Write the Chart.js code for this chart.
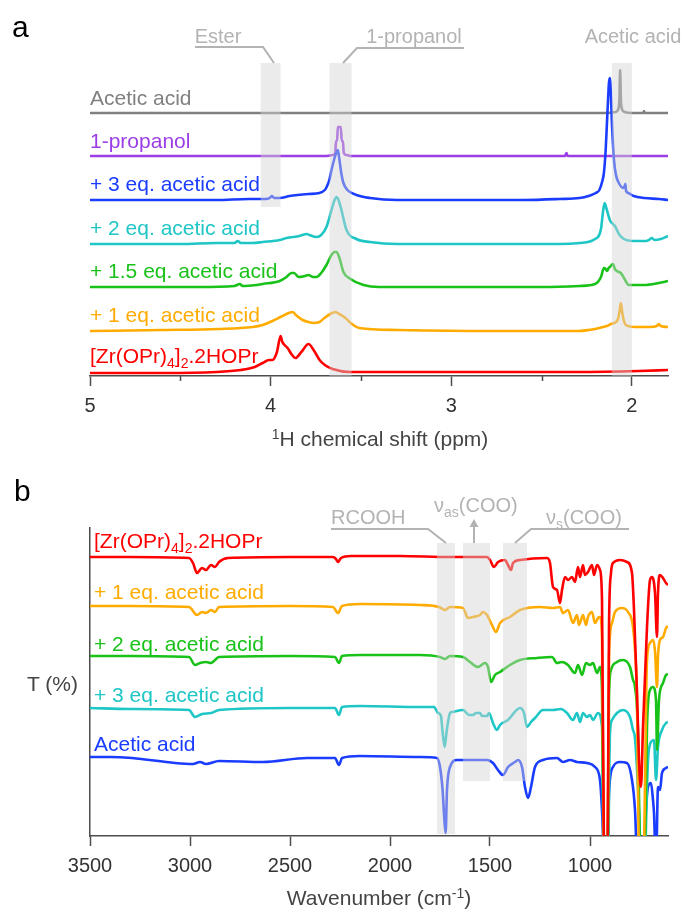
<!DOCTYPE html>
<html>
<head>
<meta charset="utf-8">
<script src="https://cdn.jsdelivr.net/npm/chart.js@4.4.0/dist/chart.umd.min.js"></script>
<style>
  body { margin: 0; background: #fff; }
  #fig { position: relative; width: 684px; height: 913px; overflow: hidden;
         font-family: "Liberation Sans", Arial, sans-serif; }
  #fig canvas { position: absolute; left: 0; }
  .lbl { position: absolute; white-space: nowrap; font-size: 21px; line-height: 21px; transform: translateY(-50%); }
  .lbl sub { font-size: 14px; vertical-align: -5px; line-height: 0; }
  .lbl sup { font-size: 14px; vertical-align: 7px; line-height: 0; }
  .mid { transform: translate(-50%, -50%); }
  .note { color: #b3b3b3; font-size: 20px; }
</style>
</head>
<body>
<div id="fig">
  <canvas id="chartNmr" width="684" height="460" style="top:0"></canvas>
  <canvas id="chartIr" width="684" height="453" style="top:460px"></canvas>
</div>
<script>
// ---- panel a : 1H NMR, [ppm, height above the trace baseline] ----
var nmrNames = ['Acetic acid', '1-propanol', '+ 3 eq. acetic acid', '+ 2 eq. acetic acid',
                '+ 1.5 eq. acetic acid', '+ 1 eq. acetic acid', '[Zr(OPr)<sub>4</sub>]<sub>2</sub>.2HOPr'];
var nmrColors = ['#808080', '#9b3ee6', '#1a3cff', '#1fc6c6', '#19c219', '#ffab00', '#ff0000'];
var nmrBase = [263, 220, 176, 132, 89, 45, 4];
var nmrDrawOrder = [2, 1, 0, 3, 4, 5, 6];
var ppmTicks = [5, 4, 3, 2];
var ppmMinorTicks = [4.5, 3.5, 2.5];

var nmrAcetic = [[5,0],[2.14,0],[2.09,1],[2.075,4],[2.069,14],[2.065,43],[2.061,14],[2.055,4],[2.04,1],[2.0,0],
  [1.936,0],[1.933,2],[1.930,0],[1.8,0]];
var nmrPropanol = [[5,0],[3.70,0],[3.655,1],[3.642,3],[3.638,15],[3.632,15],[3.628,29],[3.612,29],[3.606,15],
  [3.600,15],[3.595,3],[3.58,1],[3.55,0],[2.37,0],[2.362,3],[2.356,0],[1.8,0]];
var nmr3eq = [[5,0],[4.6,0],[4.3,0],[4.12,1],[4.03,1],[4.005,2],[3.994,4],[3.98,2],[3.95,2],[3.895,4],[3.79,6],
  [3.73,7],[3.70,10],[3.69,13],[3.675,20],[3.663,30],[3.646,42],[3.635,48],[3.628,50],[3.619,40],[3.608,26],
  [3.597,17],[3.575,10],[3.525,5],[3.45,2],[3.3,0],[2.6,0],[2.4,1],[2.29,2],[2.24,4],[2.20,7],[2.18,10],
  [2.165,18],[2.155,27],[2.145,50],[2.138,77],[2.132,100],[2.127,117],[2.122,122],[2.116,105],[2.11,75],
  [2.099,40],[2.088,25],[2.072,17],[2.048,12],[2.040,14],[2.036,16],[2.032,9],[2.02,7],[1.99,4],[1.93,2],
  [1.85,1],[1.8,0]];
var nmr2eq = [[5,0],[4.5,0],[4.3,1],[4.2,1],[4.182,3],[4.165,1],[4.1,1],[4.044,2],[3.95,4],[3.912,6],[3.84,8],
  [3.80,10],[3.785,9],[3.746,7],[3.72,9],[3.691,17],[3.663,34],[3.646,44],[3.635,47],[3.624,44],[3.608,34],
  [3.58,14],[3.525,5],[3.45,2],[3.3,0],[2.4,0],[2.29,1],[2.204,5],[2.171,15],[2.16,32],[2.151,41],[2.14,35],
  [2.122,24],[2.105,20],[2.094,18],[2.072,10],[2.044,5],[1.989,3],[1.92,3],[1.906,4],[1.89,6],[1.875,4],
  [1.84,5],[1.8,8]];
var nmr15eq = [[5,0],[4.4,0],[4.2,1],[4.171,3],[4.155,1],[4.08,2],[4.044,3],[3.95,6],[3.912,10],[3.885,14],
  [3.87,14],[3.845,10],[3.81,11],[3.79,12],[3.765,10],[3.746,10],[3.72,14],[3.691,22],[3.663,32],[3.646,35],
  [3.635,35],[3.619,29],[3.597,15],[3.558,8],[3.486,2],[3.4,0],[2.5,0],[2.29,1],[2.204,3],[2.171,10],
  [2.155,19],[2.145,18],[2.138,16],[2.128,19],[2.122,20],[2.105,23],[2.094,18],[2.083,16],[2.072,15],
  [2.061,14],[2.044,9],[2.017,2],[1.934,2],[1.851,4],[1.8,6]];
var nmr1eq = [[5,0],[4.6,1],[4.29,2],[4.1,4],[4.044,6],[3.99,10],[3.945,14],[3.90,18],[3.878,19],[3.86,16],
  [3.823,11],[3.79,9],[3.762,8],[3.73,9],[3.702,13],[3.67,17],[3.641,19],[3.62,17],[3.586,13],[3.55,7],
  [3.508,3],[3.3,1],[2.8,0],[2.3,0],[2.238,1],[2.204,2],[2.16,4],[2.138,5],[2.116,7],[2.088,9],[2.077,12],
  [2.068,20],[2.061,28],[2.053,18],[2.044,10],[2.033,6],[1.983,4],[1.90,4],[1.862,5],[1.851,7],[1.84,5],[1.8,4]];
var nmrZr = [[5,-1],[4.6,-1],[4.3,0],[4.166,2],[4.088,5],[4.044,9],[4.01,12],[3.99,12],[3.965,20],[3.945,36],
  [3.935,30],[3.923,27],[3.906,24],[3.885,18],[3.862,14],[3.83,20],[3.79,28],[3.762,22],[3.729,12],[3.70,7],
  [3.657,3],[3.558,0],[2.3,0],[1.96,1],[1.8,2]];
var nmrSpectra = [nmrAcetic, nmrPropanol, nmr3eq, nmr2eq, nmr15eq, nmr1eq, nmrZr];

// shaded regions [from, to, top, bottom] in axis units
var nmrBands = [[4.055, 3.945, 313, 169], [3.674, 3.552, 313, 0], [2.111, 2.0, 313, 0]];

// ---- panel b : IR, [wavenumber, change from the trace baseline] ----
var irNames = ['[Zr(OPr)<sub>4</sub>]<sub>2</sub>.2HOPr', '+ 1 eq. acetic acid', '+ 2 eq. acetic acid',
               '+ 3 eq. acetic acid', 'Acetic acid'];
var irColors = ['#ff0000', '#ffab00', '#19c219', '#1fc6c6', '#1a3cff'];
var irBase = [279, 230, 180, 128, 79];
var wnTicks = [3500, 3000, 2500, 2000, 1500, 1000];

var irZr = [[3500,0],[3300,0],[3005,-1],[2985,-6],[2965,-16],[2940,-11],[2920,-13],[2895,-8],[2875,-10],
  [2855,-5],[2810,-1],[2500,0],[2285,0],[2270,-2],[2260,-5],[2245,-1],[2195,1],[1950,1],[1700,0],[1515,0],
  [1500,-3],[1480,-10],[1460,-5],[1425,-3],[1410,-8],[1395,-13],[1385,-6],[1350,-3],[1215,-1],[1200,-6],
  [1185,-30],[1165,-33],[1150,-46],[1140,-33],[1125,-20],[1110,-23],[1090,-20],[1075,-25],[1060,-10],
  [1050,-20],[1035,-8],[1025,-18],[1010,-15],[990,-8],[980,-18],[965,-8],[950,-13],[940,-43],[930,-300],
  [920,-320],[912,-300],[905,-70],[895,-16],[885,-6],[850,-3],[815,-5],[790,-16],[780,-53],[765,-136],
  [755,-203],[745,-230],[735,-170],[715,-70],[700,-23],[690,-20],[675,-36],[665,-80],[660,-36],[650,-18],
  [635,-21],[620,-26],[610,-28]];
var irEq1 = [[3500,0],[3300,0],[3005,-1],[2965,-9],[2940,-6],[2920,-7],[2895,-4],[2875,-6],[2855,-1],[2500,0],
  [2285,-1],[2260,-7],[2240,0],[2150,2],[1850,1],[1755,-1],[1725,-4],[1700,-1],[1635,-2],[1610,-12],[1585,-11],
  [1550,-9],[1535,-6],[1515,-9],[1490,-19],[1470,-26],[1450,-17],[1400,-11],[1350,-4],[1250,-1],[1185,-2],
  [1150,-1],[1135,-7],[1110,-4],[1085,-17],[1065,-9],[1055,-19],[1035,-9],[1020,-19],[1010,-11],[990,-6],
  [975,-17],[960,-12],[950,-11],[940,-31],[930,-260],[920,-280],[912,-260],[905,-50],[890,-17],[875,-6],
  [840,-2],[810,-6],[785,-21],[770,-61],[765,-94],[755,-260],[745,-280],[730,-240],[715,-54],[700,-37],
  [685,-34],[675,-45],[665,-81],[660,-50],[650,-34],[635,-31],[620,-22],[610,-20]];
var irEq2 = [[3500,0],[3300,0],[3005,-1],[2975,-9],[2950,-7],[2920,-6],[2895,-7],[2875,-4],[2855,-1],[2500,0],
  [2275,-1],[2255,-7],[2240,0],[2150,1],[1850,1],[1750,-1],[1725,-3],[1700,0],[1635,-1],[1600,-6],[1560,-11],
  [1525,-7],[1510,-11],[1495,-26],[1475,-19],[1450,-16],[1400,-9],[1350,-4],[1265,-2],[1190,-1],[1165,-7],
  [1140,-6],[1110,-9],[1075,-17],[1060,-9],[1040,-19],[1020,-7],[1000,-9],[985,-7],[965,-17],[950,-11],
  [940,-34],[930,-220],[920,-230],[912,-220],[905,-40],[895,-14],[865,-6],[835,-4],[800,-11],[785,-24],
  [775,-31],[760,-77],[750,-200],[735,-230],[725,-190],[715,-71],[700,-34],[685,-31],[670,-44],[665,-94],
  [655,-44],[635,-27],[620,-19],[610,-18]];
var irEq3 = [[3500,0],[3300,-1],[3005,-2],[2975,-9],[2940,-6],[2895,-5],[2855,-2],[2500,0],[2275,0],[2255,-7],
  [2240,1],[2150,2],[1850,1],[1780,1],[1760,-5],[1745,-8],[1738,-22],[1727,-39],[1716,-22],[1700,-5],
  [1690,-4],[1635,-2],[1605,-7],[1585,-7],[1570,-5],[1550,-5],[1540,-8],[1515,-8],[1505,-5],[1485,-15],
  [1465,-22],[1450,-17],[1410,-12],[1350,0],[1330,-5],[1315,-19],[1295,-14],[1275,-10],[1235,-2],[1185,-2],
  [1145,-1],[1115,-5],[1085,-12],[1065,-5],[1050,-14],[1035,-5],[1015,-9],[1000,-7],[985,-12],[960,-5],
  [940,-19],[930,-190],[920,-200],[912,-190],[900,-25],[890,-12],[865,-5],[835,-2],[800,-9],[785,-22],
  [775,-30],[760,-80],[745,-150],[735,-160],[725,-150],[715,-79],[710,-52],[695,-34],[680,-32],[670,-72],
  [660,-39],[640,-22],[620,-15],[610,-14]];
var irAcetic = [[3500,0],[3400,0],[3290,-1],[3075,-6],[2985,-7],[2950,-5],[2920,-7],[2855,-4],[2635,-5],
  [2415,-1],[2275,-1],[2255,-8],[2240,-1],[2150,1],[1850,0],[1765,-1],[1750,-10],[1737,-33],[1729,-60],
  [1722,-76],[1715,-33],[1700,-10],[1665,-3],[1515,-3],[1485,-6],[1460,-13],[1435,-18],[1410,-10],[1375,-5],
  [1360,-3],[1340,-10],[1325,-30],[1310,-41],[1295,-30],[1275,-10],[1235,-3],[1165,-1],[1135,-5],[1100,-3],
  [1065,-5],[1015,-6],[975,-10],[950,-23],[940,-53],[930,-100],[920,-110],[912,-100],[905,-36],[885,-10],
  [850,-5],[815,-6],[790,-23],[775,-53],[765,-100],[750,-110],[730,-100],[720,-53],[710,-30],[695,-26],
  [685,-43],[680,-56],[670,-110],[660,-30],[650,-33],[640,-16],[620,-11],[610,-10]];
var irSpectra = [irZr, irEq1, irEq2, irEq3, irAcetic];

var irBands = [[1765, 1675, 293, 2], [1635, 1500, 293, 55], [1435, 1315, 293, 55]];

Chart.defaults.font.family = '"Liberation Sans", Arial, sans-serif';

function makeSets(spectra, base, colors, order) {
    return spectra.map(function (pts, i) {
        return {
            data: pts.map(function (p) { return { x: p[0], y: p[1] + base[i] }; }),
            borderColor: colors[i],
            borderWidth: 2.6,
            pointRadius: 0,
            cubicInterpolationMode: 'monotone',
            borderJoinStyle: 'round',
            order: order ? order[i] : i
        };
    });
}

function bandPlugin(bands) {
    return {
        id: 'bands',
        afterDatasetsDraw: function (chart) {
            var c = chart.ctx, xs = chart.scales.x, ys = chart.scales.y;
            c.save();
            c.fillStyle = 'rgba(211,211,211,0.45)';
            bands.forEach(function (b) {
                var x1 = xs.getPixelForValue(b[0]), x2 = xs.getPixelForValue(b[1]);
                var y1 = ys.getPixelForValue(b[2]), y2 = ys.getPixelForValue(b[3]);
                c.fillRect(Math.min(x1, x2), y1, Math.abs(x2 - x1), y2 - y1);
            });
            c.restore();
        }
    };
}

function leaderPlugin(paths, arrows) {
    return {
        id: 'leaders',
        afterDraw: function (chart) {
            var c = chart.ctx;
            c.save();
            c.strokeStyle = '#b3b3b3';
            c.fillStyle = '#b3b3b3';
            c.lineWidth = 2;
            paths.forEach(function (p) {
                c.beginPath();
                c.moveTo(p[0][0], p[0][1]);
                for (var k = 1; k < p.length; k++) c.lineTo(p[k][0], p[k][1]);
                c.stroke();
            });
            (arrows || []).forEach(function (a) {
                c.beginPath();
                c.moveTo(a[0], a[1]);
                c.lineTo(a[0], a[2] + 6);
                c.stroke();
                c.beginPath();
                c.moveTo(a[0], a[2]);
                c.lineTo(a[0] - 4.5, a[2] + 8);
                c.lineTo(a[0] + 4.5, a[2] + 8);
                c.closePath();
                c.fill();
            });
            c.restore();
        }
    };
}

var minorTicks = {
    id: 'minorTicks',
    afterDraw: function (chart) {
        var c = chart.ctx, xs = chart.scales.x, b = chart.chartArea.bottom;
        c.save();
        c.strokeStyle = '#4d4d4d';
        c.lineWidth = 1.5;
        ppmMinorTicks.forEach(function (v) {
            var x = Math.round(xs.getPixelForValue(v)) + 0.5;
            c.beginPath();
            c.moveTo(x, b);
            c.lineTo(x, b + 5);
            c.stroke();
        });
        c.restore();
    }
};

function xAxis(min, max, ticks, height) {
    return {
        type: 'linear', reverse: true, min: min, max: max,
        afterBuildTicks: function (s) { s.ticks = ticks.map(function (v) { return { value: v }; }); },
        afterFit: function (s) { s.height = height; },
        border: { color: '#4d4d4d', width: 1.5 },
        grid: { drawOnChartArea: false, tickLength: 10, tickColor: '#4d4d4d', tickWidth: 1.5 },
        ticks: { color: '#333', font: { size: 20 }, padding: 8, maxRotation: 0, autoSkip: false,
                 callback: function (v) { return String(v); } }
    };
}

var nmrChart = new Chart(document.getElementById('chartNmr').getContext('2d'), {
    type: 'line',
    data: { datasets: makeSets(nmrSpectra, nmrBase, nmrColors, nmrDrawOrder) },
    options: {
        responsive: false, animation: false,
        layout: { padding: { left: 90, right: 16, top: 40, bottom: 0 } },
        plugins: { legend: { display: false }, tooltip: { enabled: false } },
        scales: {
            x: xAxis(1.8, 5, ppmTicks, 84),
            y: { display: false, min: 0, max: 336 }
        }
    },
    plugins: [bandPlugin(nmrBands), minorTicks,
              leaderPlugin([[[195, 47], [263, 47], [274, 63]], [[464, 48], [357, 48], [343, 63]]])]
});

var irChart = new Chart(document.getElementById('chartIr').getContext('2d'), {
    type: 'line',
    data: { datasets: makeSets(irSpectra, irBase, irColors) },
    options: {
        responsive: false, animation: false,
        layout: { padding: { left: 90, right: 16, top: 68, bottom: 0 } },
        plugins: { legend: { display: false }, tooltip: { enabled: false } },
        scales: {
            x: xAxis(610, 3500, wnTicks, 77),
            y: {
                min: 0, max: 308,
                afterFit: function (s) { s.width = 0; },
                border: { color: '#4d4d4d', width: 1.5 },
                grid: { drawOnChartArea: false, drawTicks: false },
                ticks: { display: false }
            }
        }
    },
    plugins: [bandPlugin(irBands),
              leaderPlugin([[[331, 69], [428, 69], [446, 83]], [[629, 69], [531, 69], [515, 83]]],
                           [[474, 83, 59]])]
});

// ---- text ----
var fig = document.getElementById('fig');
function addLabel(html, left, top, color, cls) {
    var d = document.createElement('div');
    d.className = 'lbl' + (cls ? ' ' + cls : '');
    d.innerHTML = html;
    d.style.left = left + 'px';
    d.style.top = top + 'px';
    if (color) d.style.color = color;
    fig.appendChild(d);
}
var nmrLabelY = [97, 140, 183, 227, 270, 314, 355];
nmrNames.forEach(function (n, i) { addLabel(n, 90, nmrLabelY[i], nmrColors[i]); });
var irLabelY = [540, 591, 643, 694, 743];
irNames.forEach(function (n, i) { addLabel(n, 94, irLabelY[i], irColors[i]); });

addLabel('a', 12, 26, '#000', '');
addLabel('b', 14, 490, '#000', '');
fig.lastChild.style.fontSize = '30px';
fig.children[fig.children.length - 2].style.fontSize = '30px';

addLabel('Ester', 218, 36, null, 'mid note');
addLabel('1-propanol', 414, 36, null, 'mid note');
addLabel('Acetic acid', 633, 36, null, 'mid note');
addLabel('RCOOH', 331, 517, null, 'note');
addLabel('&nu;<sub>as</sub>(COO)', 434, 505, null, 'note');
addLabel('&nu;<sub>s</sub>(COO)', 546, 517, null, 'note');

addLabel('<sup>1</sup>H chemical shift (ppm)', 380, 438, '#444', 'mid');
addLabel('Wavenumber (cm<sup>-1</sup>)', 379, 897, '#444', 'mid');
addLabel('T (%)', 27, 683, '#444');
</script>
</body>
</html>
